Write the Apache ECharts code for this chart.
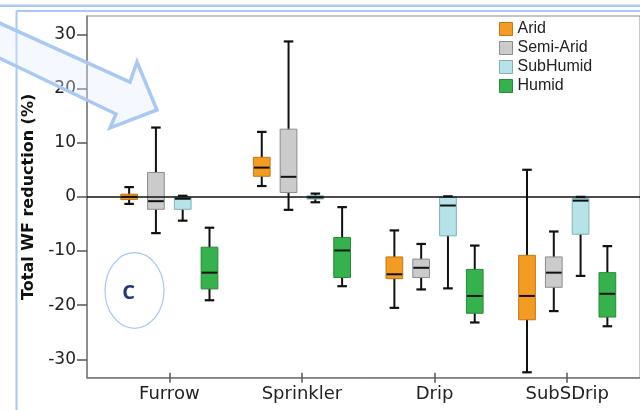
<!DOCTYPE html>
<html>
<head>
<meta charset="utf-8">
<script src="https://cdn.jsdelivr.net/npm/echarts@6/dist/echarts.min.js"></script>
<style>
  html, body { margin: 0; padding: 0; background: #ffffff; }
  #chart { width: 640px; height: 410px; }
</style>
</head>
<body>
<div id="chart"></div>
<script>
// ---- data ----
const categories = ['Furrow', 'Sprinkler', 'Drip', 'SubSDrip'];
const climates = ['Arid', 'Semi-Arid', 'SubHumid', 'Humid'];
// each entry: [min, Q1, median, Q3, max] for Furrow, Sprinkler, Drip, SubSDrip
const aridStats     = [[-1.3, -0.5, 0.0, 0.5, 1.8], [2.0, 3.8, 5.4, 7.3, 12.0], [-20.5, -15.1, -14.3, -11.1, -6.2], [-32.4, -22.7, -18.3, -10.8, 5.0]];
const semiAridStats = [[-6.7, -2.3, -0.8, 4.5, 12.8], [-2.4, 0.8, 3.7, 12.5, 28.7], [-17.1, -14.9, -13.1, -11.5, -8.7], [-21.1, -16.7, -14.0, -11.1, -6.4]];
const subHumidStats = [[-4.4, -2.3, -0.35, 0.0, 0.2], [-1.0, -0.4, -0.1, 0.2, 0.6], [-16.9, -7.2, -1.6, -0.1, 0.1], [-14.6, -6.9, -0.7, -0.3, 0.0]];
const humidStats    = [[-19.1, -17.0, -14.0, -9.3, -5.7], [-16.5, -14.9, -9.9, -7.5, -1.9], [-23.2, -21.5, -18.3, -13.4, -9.0], [-23.9, -22.2, -17.9, -14.0, -9.1]];
const yTicks = [-30, -20, -10, 0, 10, 20, 30];
const yMin = -33.4, yMax = 33.4;

// ---- styles ----
const fills   = ['#F49B22', '#CBCBCB', '#B5E3E8', '#35B24B'];
const borders = ['#C0761A', '#8C8C8C', '#7FB0B6', '#268A39'];
const statsList = [aridStats, semiAridStats, subHumidStats, humidStats];
const FONT = 'DejaVu Sans';

function makeRender(slot) {
  return function (params, api) {
    const cat = api.value(0);
    const band = api.size([1, 0])[0];
    const cx = api.coord([cat, 0])[0] + (slot - 1.5) * band * 0.202;
    const bw = band * 0.126;
    const cw = band * 0.072;
    const yLo = api.coord([cat, api.value(1)])[1];
    const yQ1 = api.coord([cat, api.value(2)])[1];
    const yMed = api.coord([cat, api.value(3)])[1];
    const yQ3 = api.coord([cat, api.value(4)])[1];
    const yHi = api.coord([cat, api.value(5)])[1];
    const black = '#111111';
    return {
      type: 'group',
      children: [
        { type: 'line', shape: { x1: cx, y1: yHi, x2: cx, y2: yLo }, style: { stroke: black, lineWidth: 2 } },
        { type: 'rect', shape: { x: cx - bw / 2, y: yQ3, width: bw, height: Math.max(yQ1 - yQ3, 1) },
          style: { fill: fills[slot], stroke: borders[slot], lineWidth: 1 } },
        { type: 'line', shape: { x1: cx - bw / 2 + 0.5, y1: yMed, x2: cx + bw / 2 - 0.5, y2: yMed }, style: { stroke: black, lineWidth: 2 } },
        { type: 'line', shape: { x1: cx - cw / 2, y1: yHi, x2: cx + cw / 2, y2: yHi }, style: { stroke: black, lineWidth: 2.2 } },
        { type: 'line', shape: { x1: cx - cw / 2, y1: yLo, x2: cx + cw / 2, y2: yLo }, style: { stroke: black, lineWidth: 2.2 } }
      ]
    };
  };
}

const boxSeries = climates.map(function (name, slot) {
  return {
    name: name,
    type: 'custom',
    xAxisIndex: 1,
    yAxisIndex: 1,
    itemStyle: { color: fills[slot] },
    encode: { x: 0, y: [1, 2, 3, 4, 5] },
    data: statsList[slot].map(function (s, i) { return [i].concat(s); }),
    renderItem: makeRender(slot),
    z: 3
  };
});

const frameBlue = '#A9C8F4';

const option = {
  animation: false,
  backgroundColor: '#ffffff',
  grid: [
    { left: 87, top: 16, right: -40, bottom: 32.3, show: true, borderColor: '#8C8C8C', borderWidth: 1, backgroundColor: 'transparent' },
    { left: 103, top: 16, width: 530.5, bottom: 32.3 },
    { left: 103, top: 16, width: 530.5, bottom: 32.3 }
  ],
  legend: {
    orient: 'vertical',
    left: 499,
    top: 21,
    padding: 0,
    itemWidth: 13,
    itemHeight: 13,
    itemGap: 3,
    icon: 'rect',
    textStyle: { fontFamily: 'Liberation Sans', fontSize: 16, color: '#222222' },
    data: climates.map(function (n, i) {
      return { name: n, icon: 'rect', itemStyle: { color: fills[i], borderColor: borders[i], borderWidth: 1 } };
    })
  },
  xAxis: [
    { gridIndex: 0, type: 'value', min: 0, max: 1,
      axisLine: { show: true, onZero: false, lineStyle: { color: '#7A7A7A', width: 1.5 } },
      axisTick: { show: false }, axisLabel: { show: false }, splitLine: { show: false } },
    { gridIndex: 1, type: 'category', data: categories, position: 'bottom',
      axisLine: { show: false, onZero: false },
      axisTick: { show: true, alignWithLabel: true, length: 5, lineStyle: { color: '#555555', width: 1.5 } },
      axisLabel: { show: true, margin: 8, fontFamily: FONT, fontSize: 18, color: '#222222' },
      splitLine: { show: false } },
    { gridIndex: 2, type: 'category', data: categories, position: 'bottom',
      axisLine: { show: false, onZero: false },
      axisTick: { show: true, alignWithLabel: true, inside: true, length: 5, lineStyle: { color: '#555555', width: 1.5 } },
      axisLabel: { show: false }, splitLine: { show: false } }
  ],
  yAxis: [
    { gridIndex: 0, type: 'value', min: yMin, max: yMax,
      name: 'Total WF reduction (%)', nameLocation: 'middle', nameGap: 50, nameRotate: 90,
      nameTextStyle: { fontFamily: FONT, fontWeight: 'bold', fontSize: 16, color: '#111111' },
      axisLine: { show: true, onZero: false, lineStyle: { color: '#7A7A7A', width: 1.5 } },
      axisTick: { show: true, length: 10, customValues: yTicks, lineStyle: { color: '#555555', width: 1.5 } },
      axisLabel: { show: true, margin: 11, customValues: yTicks, fontFamily: FONT, fontSize: 17, color: '#222222' },
      splitLine: { show: false } },
    { gridIndex: 1, type: 'value', min: yMin, max: yMax, show: false },
    { gridIndex: 2, type: 'value', min: yMin, max: yMax, show: false }
  ],
  series: [
    { name: 'zero', type: 'line', xAxisIndex: 0, yAxisIndex: 0, data: [], silent: true,
      markLine: { silent: true, symbol: 'none', label: { show: false },
        lineStyle: { color: '#111111', width: 1.5, type: 'solid' },
        data: [{ yAxis: 0 }] } }
  ].concat(boxSeries),
  graphic: [
    { type: 'line', z: 100, shape: { x1: 0, y1: 5.7, x2: 640, y2: 5.7 }, style: { stroke: frameBlue, lineWidth: 2.5 } },
    { type: 'line', z: 100, shape: { x1: 16.5, y1: 11, x2: 640, y2: 11 }, style: { stroke: frameBlue, lineWidth: 2 } },
    { type: 'line', z: 100, shape: { x1: 16.5, y1: 11, x2: 16.5, y2: 410 }, style: { stroke: frameBlue, lineWidth: 2 } },
    { type: 'polygon', z: 101,
      shape: { points: [[-5, 21], [130, 82], [137, 62], [157, 110], [110, 128], [116, 114], [-5, 56]] },
      style: { fill: 'rgba(225,236,252,0.35)', stroke: frameBlue, lineWidth: 3.5, lineJoin: 'miter' } },
    { type: 'ellipse', z: 101, shape: { cx: 134.5, cy: 290.5, rx: 29.5, ry: 37.8 },
      style: { fill: 'none', stroke: '#A9C7F2', lineWidth: 1.2 } },
    { type: 'text', z: 102, x: 128.5, y: 293, style: { text: 'C', fill: '#1F3A78', font: 'bold 20px "Open Sans"', align: 'center', verticalAlign: 'middle' } }
  ]
};

const chart = echarts.init(document.getElementById('chart'), null, { renderer: 'canvas' });
chart.setOption(option);
</script>
</body>
</html>
